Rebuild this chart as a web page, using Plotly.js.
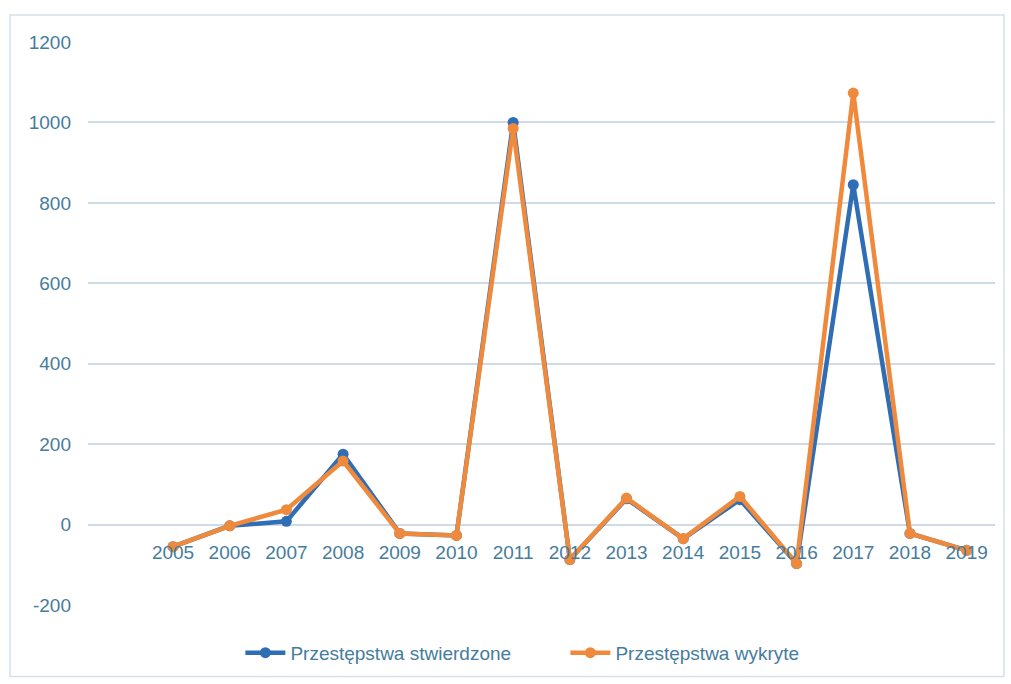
<!DOCTYPE html>
<html>
<head>
<meta charset="utf-8">
<script src="https://cdn.plot.ly/plotly-3.0.1.min.js"></script>
<style>html,body{margin:0;padding:0;background:#fff;}#chart{width:1011px;height:684px;}</style>
</head>
<body>
<div id="chart"></div>
<script>
const years = [2005, 2006, 2007, 2008, 2009, 2010, 2011, 2012, 2013, 2014, 2015, 2016, 2017, 2018, 2019];
const yearLabels = ["2005", "2006", "2007", "2008", "2009", "2010", "2011", "2012", "2013", "2014", "2015", "2016", "2017", "2018", "2019"];
const stwierdzone = [-55, -3, 8, 175, -22, -27, 1000, -87, 64, -35, 62, -97, 845, -22, -64];
const wykryte = [-55, -3, 37, 158, -22, -27, 985, -87, 66, -35, 70, -97, 1073, -22, -64];
const seriesNames = ["Przestępstwa stwierdzone", "Przestępstwa wykryte"];
const yTicks = [-200, 0, 200, 400, 600, 800, 1000, 1200];
const yTickLabels = ["-200", "0", "200", "400", "600", "800", "1000", "1200"];

const textColor = "#467c9c";
const gridColor = "#cfdce8";
const font = "Liberation Sans, Arial, sans-serif";

const traces = [
  {x: years, y: stwierdzone, name: seriesNames[0], type: "scatter", mode: "lines+markers",
   line: {color: "#2f6db5", width: 4.5}, marker: {color: "#2f6db5", size: 11, symbol: "circle"}},
  {x: years, y: wykryte, name: seriesNames[1], type: "scatter", mode: "lines+markers",
   line: {color: "#ef8a3c", width: 4.5}, marker: {color: "#ef8a3c", size: 11, symbol: "circle"}}
];

const layout = {
  width: 1011, height: 684,
  margin: {l: 88, r: 16, t: 42, b: 77},
  paper_bgcolor: "#ffffff", plot_bgcolor: "#ffffff",
  showlegend: true,
  legend: {orientation: "h", x: 0.168, xanchor: "left", y: -0.085, yanchor: "middle",
           font: {family: font, size: 19, color: textColor}, itemwidth: 40,
           entrywidth: 270, entrywidthmode: "pixels", traceorder: "normal"},
  xaxis: {range: [2003.5, 2019.5], tickvals: years, ticktext: yearLabels,
          anchor: "free", position: 200 / 1400, showgrid: false, zeroline: false, showline: false,
          ticks: "", ticklabelstandoff: 14, tickfont: {family: font, size: 19, color: textColor}},
  yaxis: {range: [-200, 1200], tickvals: yTicks, ticktext: yTickLabels, showgrid: true,
          gridcolor: gridColor, gridwidth: 2,
          zeroline: false, showline: false, ticks: "", ticklabelstandoff: 16,
          tickfont: {family: font, size: 19, color: textColor}},
  shapes: [
    {type: "rect", xref: "paper", yref: "paper", x0: -0.086, x1: 1.0099, y0: -0.127, y1: 1.048,
     line: {color: "#d6e1ea", width: 1.5}, fillcolor: "rgba(0,0,0,0)", layer: "below"}
  ]
};

Plotly.newPlot("chart", traces, layout, {displayModeBar: false, staticPlot: true});
</script>
</body>
</html>
